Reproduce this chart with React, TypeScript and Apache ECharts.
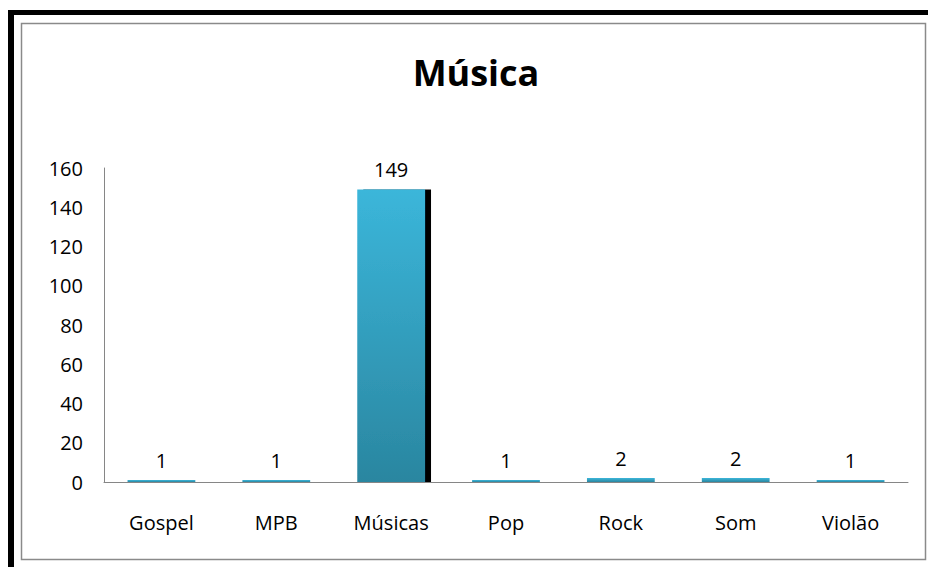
import React, { useEffect, useRef } from "react";
import * as echarts from "echarts";

const categories = ["Gospel", "MPB", "Músicas", "Pop", "Rock", "Som", "Violão"];
const values = [1, 1, 149, 1, 2, 2, 1];
const shadowedCategory = "Músicas";
const titleText = "Música";
const yMin = 0;
const yMax = 160;
const yInterval = 20;

const FONT = "'Open Sans', 'Noto Sans', sans-serif";

export default function App() {
  const ref = useRef<HTMLDivElement>(null);
  useEffect(() => {
    if (!ref.current) return;
    const chart = echarts.init(ref.current, undefined, { renderer: "svg" });
    const barColor = new echarts.graphic.LinearGradient(0, 0, 0, 1, [
      { offset: 0, color: "#3bb6da" },
      { offset: 1, color: "#2a86a0" },
    ]);
    chart.setOption({
      animation: false,
      backgroundColor: "#ffffff",
      title: {
        text: titleText,
        left: 471,
        top: 49,
        textAlign: "center",
        textStyle: { fontFamily: FONT, fontSize: 36, fontWeight: "bold", color: "#000" },
      },
      graphic: [
        { type: "rect", shape: { x: 8, y: 10, width: 6, height: 600 }, style: { fill: "#000" }, silent: true },
        { type: "rect", shape: { x: 8, y: 10, width: 960, height: 5 }, style: { fill: "#000" }, silent: true },
        {
          type: "rect",
          shape: { x: 21.5, y: 23.5, width: 904, height: 536 },
          style: { fill: "none", stroke: "#8a8a8a", lineWidth: 1.5 },
          silent: true,
        },
      ],
      grid: { left: 104, right: 20, top: 168, bottom: 85, containLabel: false },
      xAxis: {
        type: "category",
        data: categories,
        axisLine: { show: true, lineStyle: { color: "#868686", width: 1 } },
        axisTick: { show: false },
        axisLabel: { fontFamily: FONT, fontSize: 20, color: "#000", margin: 30 },
      },
      yAxis: {
        type: "value",
        min: yMin,
        max: yMax,
        interval: yInterval,
        splitLine: { show: false },
        axisLine: { show: true, lineStyle: { color: "#868686", width: 1 } },
        axisTick: { show: false },
        axisLabel: { fontFamily: FONT, fontSize: 20, color: "#000", margin: 21 },
      },
      series: [
        {
          type: "bar",
          barCategoryGap: "41%",
          data: values.map((v, i) =>
            categories[i] === shadowedCategory
              ? {
                  value: v,
                  itemStyle: {
                    shadowColor: "#000",
                    shadowOffsetX: 6,
                    shadowOffsetY: 0,
                    shadowBlur: 0,
                  },
                }
              : v
          ),
          itemStyle: { color: barColor },
          label: {
            show: true,
            position: "top",
            distance: 10,
            fontFamily: FONT,
            fontSize: 20,
            color: "#000",
          },
        },
      ],
    });
    return () => chart.dispose();
  }, []);
  return (
    <div
      ref={ref}
      style={{ position: "fixed", left: 0, top: 0, width: 928, height: 567, background: "#fff" }}
    />
  );
}
